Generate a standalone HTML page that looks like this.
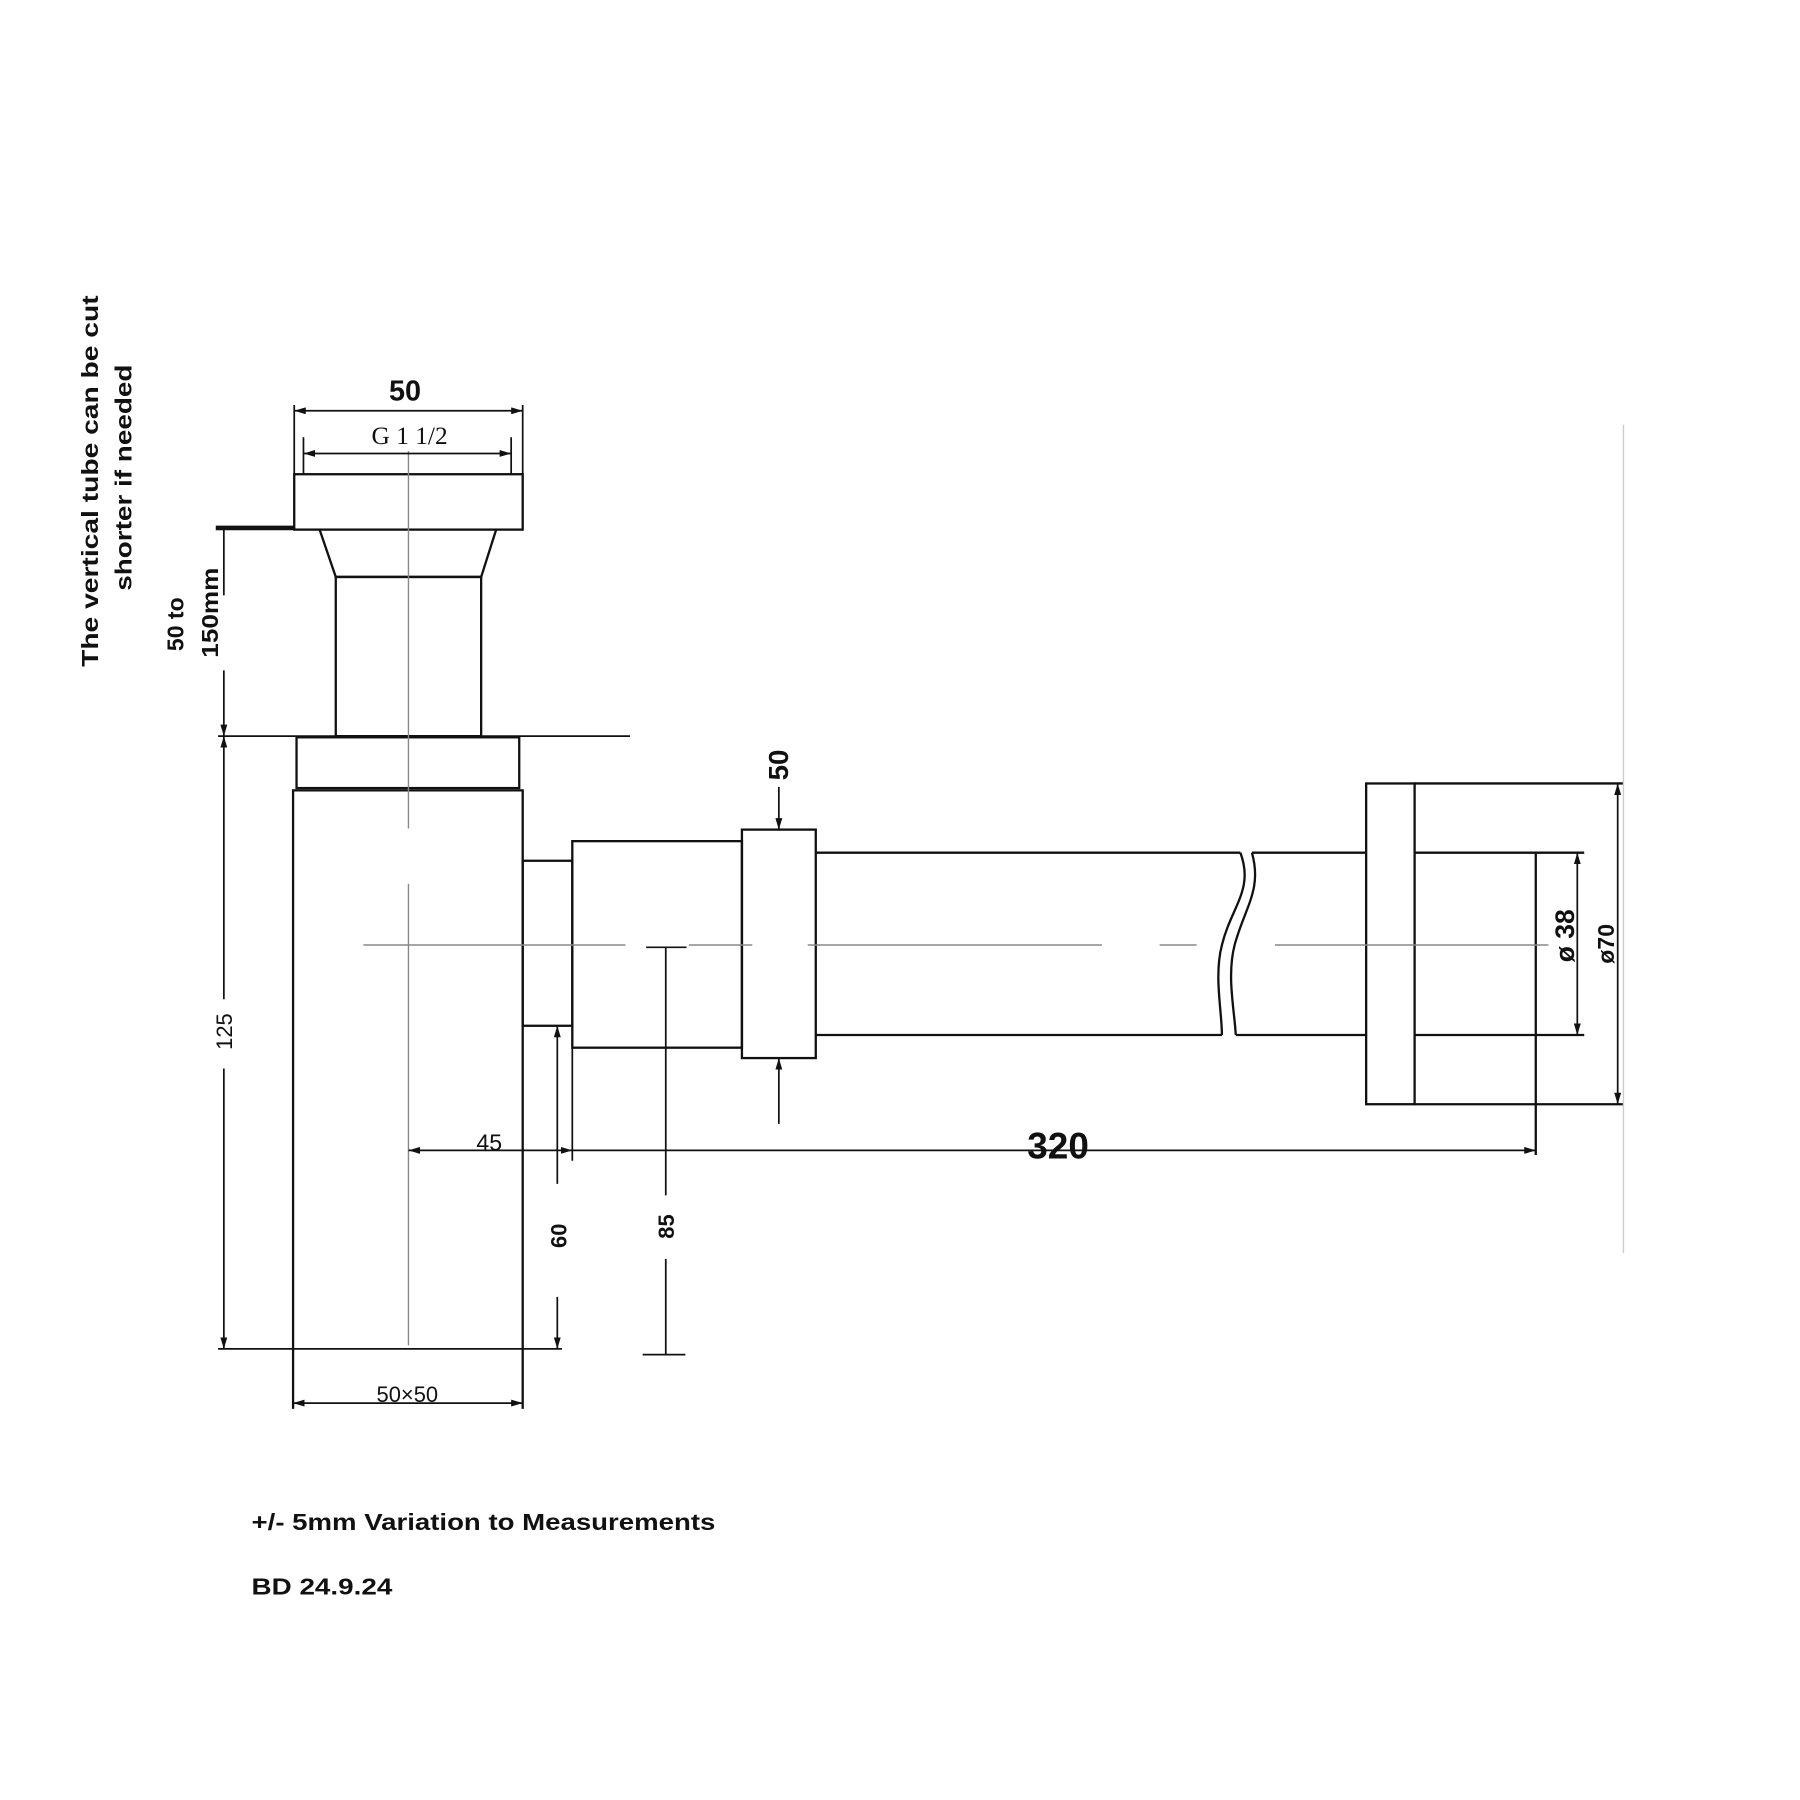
<!DOCTYPE html>
<html><head><meta charset="utf-8"><style>html,body{margin:0;padding:0;background:#fff}svg{display:block}</style></head>
<body>
<svg width="1800" height="1800" viewBox="0 0 1560 1560" xmlns="http://www.w3.org/2000/svg">
<defs>
<marker id="a" viewBox="0 0 10 6" refX="10" refY="3" markerWidth="10" markerHeight="6" markerUnits="userSpaceOnUse" orient="auto-start-reverse"><path d="M0,0 L10,3 L0,6 z" fill="#111"/></marker>
</defs>
<g transform="translate(-3,-4)">
<g fill="none" stroke="#111" stroke-width="2">
<rect x="258" y="415" width="198" height="48"/>
<line x1="190" y1="461.5" x2="258" y2="461.5" stroke-width="4"/>
<path d="M280,463 L294,504 L420,504 L433,463"/>
<rect x="294" y="504" width="126" height="138"/>
<line x1="192" y1="642" x2="549" y2="642" stroke-width="1.5"/>
<rect x="260" y="643" width="193" height="44"/>
<path d="M257,1225 L257,689 L456,689 L456,1225"/>
<line x1="192" y1="1173" x2="490" y2="1173" stroke-width="1.5"/>
<rect x="456" y="750" width="43" height="143"/>
<rect x="499" y="733" width="147" height="179"/>
<rect x="646" y="723" width="64" height="198"/>
<path d="M710,743 L1078,743 M710,901 L1062,901"/>
<path d="M1078,743 C1090,775 1070,790 1062,823 C1055,850 1062,880 1062,901"/>
<path d="M1088,743 C1097,775 1082,790 1073,823 C1066,850 1073,880 1074,901"/>
<path d="M1088,743 L1187,743 M1074,901 L1187,901"/>
<rect x="1187" y="683" width="42" height="278"/>
<path d="M1229,683 L1410,683 M1229,961 L1410,961"/>
<path d="M1229,743 L1334,743 L1334,1005 M1229,901 L1334,901"/>
<path d="M1334,743 L1376,743 M1334,901 L1376,901"/>
</g>
<g stroke="#888" stroke-width="1.2" fill="none">
<line x1="357" y1="395" x2="357" y2="722"/>
<line x1="357" y1="770" x2="357" y2="1170"/>
<path d="M318,823 L545,823 M600,823 L655,823 M703,823 L958,823 M1008,823 L1040,823 M1108,823 L1345,823"/>
<line x1="1410" y1="372" x2="1410" y2="1090" stroke="#ccc"/>
</g>
<g stroke="#111" stroke-width="1.5" fill="none">
<path d="M258,355 L258,415 M456,355 L456,415 M266,383 L266,415 M446,383 L446,415"/>
<line x1="258" y1="360" x2="456" y2="360" marker-start="url(#a)" marker-end="url(#a)"/>
<line x1="266" y1="397" x2="446" y2="397" marker-start="url(#a)" marker-end="url(#a)"/>
<line x1="197" y1="463" x2="197" y2="520"/>
<line x1="197" y1="585" x2="197" y2="642" marker-end="url(#a)"/>
<line x1="197" y1="642" x2="197" y2="870" marker-start="url(#a)"/>
<line x1="197" y1="930" x2="197" y2="1173" marker-end="url(#a)"/>
<line x1="257" y1="1220" x2="456" y2="1220" marker-start="url(#a)" marker-end="url(#a)"/>
<line x1="357" y1="1001" x2="499" y2="1001" marker-start="url(#a)" marker-end="url(#a)"/>
<line x1="499" y1="1001" x2="1334" y2="1001" marker-end="url(#a)"/>
<line x1="499" y1="893" x2="499" y2="1010"/>
<line x1="486" y1="1030" x2="486" y2="893" marker-end="url(#a)"/>
<line x1="486" y1="1128" x2="486" y2="1173" marker-end="url(#a)"/>
<path d="M563,825 L598,825 M580,825 L580,1040 M580,1095 L580,1178 M560,1178 L597,1178"/>
<line x1="678" y1="686" x2="678" y2="723" marker-end="url(#a)"/>
<line x1="678" y1="978" x2="678" y2="921" marker-end="url(#a)"/>
<line x1="1370" y1="743" x2="1370" y2="901" marker-start="url(#a)" marker-end="url(#a)"/>
<line x1="1405" y1="683" x2="1405" y2="961" marker-start="url(#a)" marker-end="url(#a)"/>
</g>
<g fill="#111" font-family="'Liberation Sans', sans-serif">
<text x="354" y="351" font-size="25" font-weight="bold" text-anchor="middle">50</text>
<text x="358" y="389" font-size="22" font-family="'Liberation Serif', serif" text-anchor="middle">G 1 1/2</text>
<text x="356" y="1219" font-size="19" text-anchor="middle">50×50</text>
<text x="427" y="1001" font-size="20" text-anchor="middle">45</text>
<text x="920" y="1008" font-size="32" font-weight="bold" text-anchor="middle">320</text>
<text transform="translate(204,898) rotate(-90)" font-size="19" text-anchor="middle">125</text>
<text transform="translate(494,1075) rotate(-90)" font-size="19" font-weight="bold" text-anchor="middle">60</text>
<text transform="translate(587,1067) rotate(-90)" font-size="19" font-weight="bold" text-anchor="middle">85</text>
<text transform="translate(686,667) rotate(-90)" font-size="24" font-weight="bold" text-anchor="middle">50</text>
<text transform="translate(1367,815) rotate(-90)" font-size="23" font-weight="bold" text-anchor="middle">ø 38</text>
<text transform="translate(1402,822) rotate(-90)" font-size="20" font-weight="bold" text-anchor="middle">ø70</text>
<text transform="translate(162,545) rotate(-90)" font-size="20" font-weight="bold" text-anchor="middle">50 to</text>
<text transform="translate(192,535) rotate(-90)" font-size="20" font-weight="bold" text-anchor="middle" textLength="78" lengthAdjust="spacingAndGlyphs">150mm</text>
<text transform="translate(88,421) rotate(-90)" font-size="20" font-weight="bold" text-anchor="middle" textLength="322" lengthAdjust="spacingAndGlyphs">The vertical tube can be cut</text>
<text transform="translate(117,418) rotate(-90)" font-size="20" font-weight="bold" text-anchor="middle" textLength="196" lengthAdjust="spacingAndGlyphs">shorter if needed</text>
<text x="221" y="1330" font-size="20" font-weight="bold" textLength="402" lengthAdjust="spacingAndGlyphs">+/- 5mm Variation to Measurements</text>
<text x="221" y="1386" font-size="20" font-weight="bold" textLength="122" lengthAdjust="spacingAndGlyphs">BD 24.9.24</text>
</g>
</g>
</svg>
</body></html>
